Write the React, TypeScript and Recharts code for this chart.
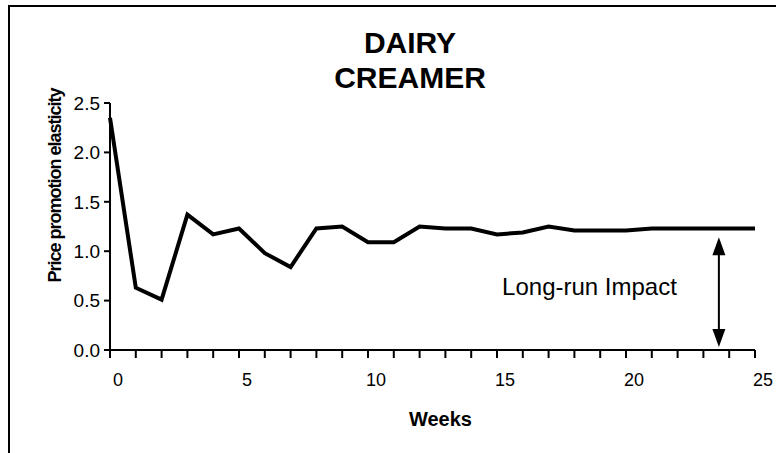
import { LineChart, Line, XAxis, YAxis, ReferenceLine } from 'recharts';

const weeks = [0, 1, 2, 3, 4, 5, 6, 7, 8, 9, 10, 11, 12, 13, 14, 15, 16, 17, 18, 19, 20, 21, 22, 23, 24, 25];
const elasticity = [2.35, 0.63, 0.51, 1.37, 1.17, 1.23, 0.98, 0.84, 1.23, 1.25, 1.09, 1.09, 1.25, 1.23, 1.23, 1.17, 1.19, 1.25, 1.21, 1.21, 1.21, 1.23, 1.23, 1.23, 1.23, 1.23];
const yTicks = [0, 0.5, 1, 1.5, 2, 2.5];
const xLabelEvery = 5;
const arrowWeek = 23.6;
const arrowFrom = 0.03;
const arrowTo = 1.14;

const data = weeks.map((w, i) => ({ week: w, value: elasticity[i] }));

const FONT = '"Liberation Sans", Arial, sans-serif';

function DoubleArrow(props: any) {
    const { x1, y1, y2 } = props;
    const top = Math.min(y1, y2);
    const bottom = Math.max(y1, y2);
    return (
        <g>
            <line x1={x1} y1={top + 12} x2={x1} y2={bottom - 12} stroke="#000" strokeWidth={2} />
            <polygon points={`${x1},${top} ${x1 - 6.5},${top + 18} ${x1 + 6.5},${top + 18}`} fill="#000" />
            <polygon points={`${x1},${bottom} ${x1 - 6.5},${bottom - 18} ${x1 + 6.5},${bottom - 18}`} fill="#000" />
        </g>
    );
}

export default function App() {
    return (
        <div style={{ position: 'fixed', left: 0, top: 0, width: 776, height: 453, overflow: 'hidden', background: '#fff', fontFamily: FONT }}>
            {/* frame, only the left and top edges fall inside the picture */}
            <div style={{ position: 'absolute', left: 8, top: 5, width: 820, height: 520, border: '2px solid #000', boxSizing: 'border-box' }} />
            <div style={{ position: 'absolute', left: 318, top: 25, width: 184, textAlign: 'center', fontSize: 30, lineHeight: '35px', fontWeight: 'bold', color: '#000' }}>
                DAIRY<br />CREAMER
            </div>
            <div style={{ position: 'absolute', left: 8, top: 5 }}>
                <LineChart
                    width={768}
                    height={448}
                    data={data}
                    margin={{ top: 98, right: 21, left: 42, bottom: 73 }}
                    style={{ overflow: 'visible' }}
                >
                    <XAxis
                        dataKey="week"
                        type="number"
                        domain={[0, 25]}
                        ticks={weeks}
                        interval={0}
                        tickFormatter={(v: number) => (v % xLabelEvery === 0 ? String(v) : '')}
                        tick={{ fontSize: 18, fill: '#000', dx: 8 }}
                        tickSize={8}
                        tickMargin={15}
                        height={30}
                        axisLine={{ stroke: '#000', strokeWidth: 2 }}
                        tickLine={{ stroke: '#000', strokeWidth: 2 }}
                        label={{
                            content: (p: any) => (
                                <text x={p.viewBox.x + p.viewBox.width / 2 + 8} y={421} textAnchor="middle" fontSize={20} fontWeight="bold" fill="#000">
                                    Weeks
                                </text>
                            ),
                        }}
                    />
                    <YAxis
                        type="number"
                        domain={[0, 2.5]}
                        ticks={yTicks}
                        interval={0}
                        tickFormatter={(v: number) => v.toFixed(1)}
                        tick={{ fontSize: 19, fill: '#000' }}
                        tickSize={6}
                        tickMargin={4}
                        width={60}
                        axisLine={{ stroke: '#000', strokeWidth: 2 }}
                        tickLine={{ stroke: '#000', strokeWidth: 2 }}
                        label={{
                            content: (p: any) => {
                                const cx = p.viewBox.x + 5;
                                const cy = p.viewBox.y + p.viewBox.height / 2 - 41;
                                return (
                                    <text x={cx} y={cy} transform={`rotate(-90, ${cx}, ${cy})`} textAnchor="middle" dominantBaseline="central" fontSize={18} letterSpacing={-1} fontWeight="bold" fill="#000">
                                        Price promotion elasticity
                                    </text>
                                );
                            },
                        }}
                    />
                    <Line
                        type="linear"
                        dataKey="value"
                        stroke="#000"
                        strokeWidth={4}
                        dot={false}
                        activeDot={false}
                        isAnimationActive={false}
                    />
                    <ReferenceLine
                        segment={[{ x: arrowWeek, y: arrowFrom }, { x: arrowWeek, y: arrowTo }]}
                        shape={DoubleArrow}
                        label={{ value: 'Long-run Impact', position: 'left', offset: 42, fontSize: 24, fill: '#000', dy: -6 }}
                    />
                </LineChart>
            </div>
        </div>
    );
}
